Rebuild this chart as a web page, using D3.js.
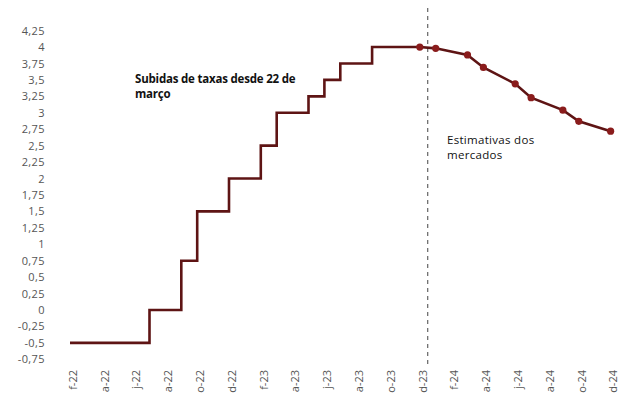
<!DOCTYPE html>
<html><head><meta charset="utf-8">
<script src="https://cdn.jsdelivr.net/npm/d3@7"></script>
<style>body{margin:0;background:#fff}svg{display:block}</style>
</head><body>
<script>
// ---- data ----
const tickLabels = ["f-22","a-22","j-22","a-22","o-22","d-22","f-23","a-23","j-23","a-23","o-23","d-23","f-24","a-24","j-24","a-24","o-24","d-24"];
const tickMonths = ["2022-02","2022-04","2022-06","2022-08","2022-10","2022-12","2023-02","2023-04","2023-06","2023-08","2023-10","2023-12","2024-02","2024-04","2024-06","2024-08","2024-10","2024-12"];
const yTicks = [-0.75,-0.5,-0.25,0,0.25,0.5,0.75,1,1.25,1.5,1.75,2,2.25,2.5,2.75,3,3.25,3.5,3.75,4,4.25];
const histMonths = ["2022-02","2022-07","2022-09","2022-10","2022-12","2023-02","2023-03","2023-05","2023-06","2023-07","2023-09","2023-12"];
const histRates  = [-0.5, 0, 0.75, 1.5, 2.0, 2.5, 3.0, 3.25, 3.5, 3.75, 4.0, 4.0];
const fcMonths = ["2023-12","2024-01","2024-03","2024-04","2024-06","2024-07","2024-09","2024-10","2024-12"];
const fcRates  = [4.0, 3.98, 3.88, 3.69, 3.44, 3.23, 3.04, 2.87, 2.72];
const splitMonth = "2023-12";
const noteLeft = ["Subidas de taxas desde 22 de","março"];
const noteRight = ["Estimativas dos","mercados"];

const W = 628, H = 399;
const mi = s => { const [y,m] = s.split("-").map(Number); return (y-2022)*12 + (m-2); };

const svg = d3.select("body").append("svg").attr("width",W).attr("height",H);
const x = d3.scaleLinear().domain([0,34]).range([70, 610.6]);
const y = d3.scaleLinear().domain([-0.75,4.25]).range([359.3, 30.6]);

const lineColor = "#5e1414", dotColor = "#8a1c1c", textColor = "#555";

// y axis labels
const yAxis = d3.axisLeft(y).tickValues(yTicks).tickSize(0).tickPadding(0)
  .tickFormat(d => String(d).replace(".", ","));
const gy = svg.append("g").attr("transform","translate(45,0)").call(yAxis);
gy.select(".domain").remove();
gy.selectAll("text").attr("fill",textColor).style("font-family","'Open Sans'").style("font-size","11px").attr("letter-spacing","0.4px");

// x axis labels (rotated)
const gx = svg.append("g");
gx.selectAll("text").data(tickMonths).join("text")
  .attr("transform", d => `translate(${x(mi(d))+3},370) rotate(-90)`)
  .attr("text-anchor","end").attr("dy","0.35em")
  .attr("fill",textColor).style("font-family","'Open Sans'").style("font-size","11px")
  .text((d,i) => tickLabels[i]);

// dashed divider
svg.append("line").attr("x1", x(mi(splitMonth)+0.5)).attr("x2", x(mi(splitMonth)+0.5))
  .attr("y1", 8).attr("y2", 366).attr("stroke","#444").attr("stroke-width",1)
  .attr("stroke-dasharray","4,4");

// historical step line
const hist = histMonths.map((m,i)=>({m:mi(m), v:histRates[i]}));
svg.append("path").datum(hist)
  .attr("d", d3.line().x(d=>x(d.m)).y(d=>y(d.v)).curve(d3.curveStepAfter))
  .attr("fill","none").attr("stroke",lineColor).attr("stroke-width",2.6);

// forecast line
const fc = fcMonths.map((m,i)=>({m:mi(m), v:fcRates[i]}));
svg.append("path").datum(fc)
  .attr("d", d3.line().x(d=>x(d.m)).y(d=>y(d.v)))
  .attr("fill","none").attr("stroke",lineColor).attr("stroke-width",2.6);
svg.selectAll("circle.dot").data(fc).join("circle").attr("class","dot")
  .attr("cx", d=>x(d.m)).attr("cy", d=>y(d.v)).attr("r",3.6).attr("fill",dotColor);

// annotations
svg.append("text")
  .style("font-family","'Open Sans'").style("font-size","11.5px").style("font-weight","700")
  .attr("letter-spacing","-0.2px").attr("fill","#111")
  .selectAll("tspan").data(noteLeft).join("tspan").attr("x",135).attr("y",(d,i)=>83+i*14.5).text(d=>d);
svg.append("text")
  .style("font-family","'Open Sans'").style("font-size","11.5px")
  .attr("letter-spacing","0.3px").attr("fill","#111")
  .selectAll("tspan").data(noteRight).join("tspan").attr("x",447).attr("y",(d,i)=>144+i*15).text(d=>d);
</script>
</body></html>
